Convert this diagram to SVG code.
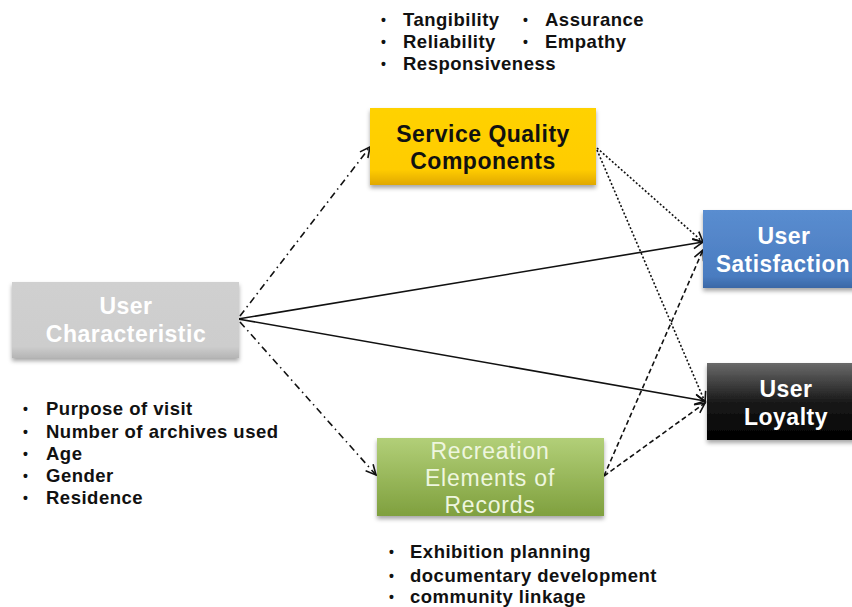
<svg xmlns="http://www.w3.org/2000/svg" width="852" height="607" viewBox="0 0 852 607">
<defs>
<style>
.lst{font-family:"Liberation Sans","Arial",sans-serif;font-weight:bold;font-size:18.5px;letter-spacing:0.5px;fill:#111;}
.bl{font-family:"Liberation Sans","Arial",sans-serif;font-weight:bold;font-size:14px;fill:#111;}
.nb{font-family:"Liberation Sans","Arial",sans-serif;font-weight:bold;font-size:23px;letter-spacing:0.5px;text-anchor:middle;}
.nr{font-family:"Liberation Sans","Arial",sans-serif;font-size:23px;letter-spacing:0.8px;text-anchor:middle;fill:#EEF6DF;}
.c{fill:none;stroke:#111;stroke-width:1.6;marker-end:url(#ah);}
.dd{stroke-dasharray:7 4 1.5 4;}
.dt{stroke-dasharray:2 2;}
.ds{stroke-dasharray:5 3;}
</style>
<marker id="ah" markerWidth="14" markerHeight="14" refX="12" refY="7" orient="auto" markerUnits="userSpaceOnUse">
<path d="M2,2 L12,7 L2,12" fill="none" stroke="#111" stroke-width="1.6"/>
</marker>
<filter id="sh" x="-10%" y="-10%" width="120%" height="130%">
<feDropShadow dx="0" dy="3" stdDeviation="2" flood-color="#000" flood-opacity="0.35"/>
</filter>
<linearGradient id="gy" x1="0" y1="0" x2="0" y2="1"><stop offset="0" stop-color="#FFD200"/><stop offset="0.8" stop-color="#FFCC00"/><stop offset="1" stop-color="#E0A800"/></linearGradient>
<linearGradient id="gg" x1="0" y1="0" x2="0" y2="1"><stop offset="0" stop-color="#D0D0D0"/><stop offset="0.85" stop-color="#CDCDCD"/><stop offset="1" stop-color="#B5B5B5"/></linearGradient>
<linearGradient id="gr" x1="0" y1="0" x2="0" y2="1"><stop offset="0" stop-color="#B2CF78"/><stop offset="1" stop-color="#7FA03E"/></linearGradient>
<linearGradient id="gb" x1="0" y1="0" x2="0" y2="1"><stop offset="0" stop-color="#5A8DD0"/><stop offset="0.85" stop-color="#4A7CC0"/><stop offset="1" stop-color="#3A68A6"/></linearGradient>
<linearGradient id="gk" x1="0" y1="0" x2="0" y2="1"><stop offset="0" stop-color="#6A6A6A"/><stop offset="0.5" stop-color="#1A1A1A"/><stop offset="1" stop-color="#000"/></linearGradient>
</defs>
<rect width="852" height="607" fill="#fff"/>

<g id="connectors">
<line class="c dd" x1="240" y1="316" x2="370" y2="147"/>
<line class="c dd" x1="240" y1="322" x2="376" y2="475"/>
<line class="c" x1="238" y1="319" x2="703" y2="242"/>
<line class="c" x1="238" y1="319" x2="705" y2="401"/>
<line class="c dt" x1="597" y1="148" x2="703" y2="242"/>
<line class="c dt" x1="597" y1="150" x2="705" y2="402"/>
<line class="c ds" x1="604" y1="476" x2="703" y2="250"/>
<line class="c ds" x1="604" y1="476" x2="705" y2="403"/>
</g>

<g id="service-quality">
<rect x="370" y="108" width="226" height="77" fill="url(#gy)" filter="url(#sh)"/>
<text class="nb" x="483" y="142" fill="#111">Service Quality</text>
<text class="nb" x="483" y="169" fill="#111">Components</text>
</g>

<g id="user-characteristic">
<rect x="12" y="282" width="227" height="76" fill="url(#gg)" filter="url(#sh)"/>
<text class="nb" x="126" y="314" fill="#fff">User</text>
<text class="nb" x="126" y="342" fill="#fff">Characteristic</text>
</g>

<g id="recreation">
<rect x="377" y="438" width="227" height="78" fill="url(#gr)" filter="url(#sh)"/>
<text class="nr" x="490" y="459">Recreation</text>
<text class="nr" x="490" y="486">Elements of</text>
<text class="nr" x="490" y="513">Records</text>
</g>

<g id="user-satisfaction">
<rect x="703" y="210" width="155" height="78" fill="url(#gb)" filter="url(#sh)"/>
<text class="nb" x="784" y="244" fill="#fff">User</text>
<text class="nb" x="783" y="272" fill="#fff" textLength="134" lengthAdjust="spacingAndGlyphs">Satisfaction</text>
</g>

<g id="user-loyalty">
<rect x="707" y="363" width="150" height="77" fill="url(#gk)" filter="url(#sh)"/>
<text class="nb" x="786" y="397" fill="#fff">User</text>
<text class="nb" x="786" y="425" fill="#fff">Loyalty</text>
</g>

<g id="sq-list">
<text class="bl" x="381" y="25">•</text><text class="lst" x="403" y="26">Tangibility</text>
<text class="bl" x="523" y="25">•</text><text class="lst" x="545" y="26">Assurance</text>
<text class="bl" x="381" y="47">•</text><text class="lst" x="403" y="48">Reliability</text>
<text class="bl" x="523" y="47">•</text><text class="lst" x="545" y="48">Empathy</text>
<text class="bl" x="381" y="69">•</text><text class="lst" x="403" y="70">Responsiveness</text>
</g>

<g id="uc-list">
<text class="bl" x="23" y="414">•</text><text class="lst" x="46" y="415">Purpose of visit</text>
<text class="bl" x="23" y="437">•</text><text class="lst" x="46" y="438">Number of archives used</text>
<text class="bl" x="23" y="459">•</text><text class="lst" x="46" y="460">Age</text>
<text class="bl" x="23" y="481">•</text><text class="lst" x="46" y="482">Gender</text>
<text class="bl" x="23" y="503">•</text><text class="lst" x="46" y="504">Residence</text>
</g>

<g id="rec-list">
<text class="bl" x="389" y="557">•</text><text class="lst" x="410" y="558">Exhibition planning</text>
<text class="bl" x="389" y="581">•</text><text class="lst" x="410" y="582">documentary development</text>
<text class="bl" x="389" y="602">•</text><text class="lst" x="410" y="603">community linkage</text>
</g>
</svg>
